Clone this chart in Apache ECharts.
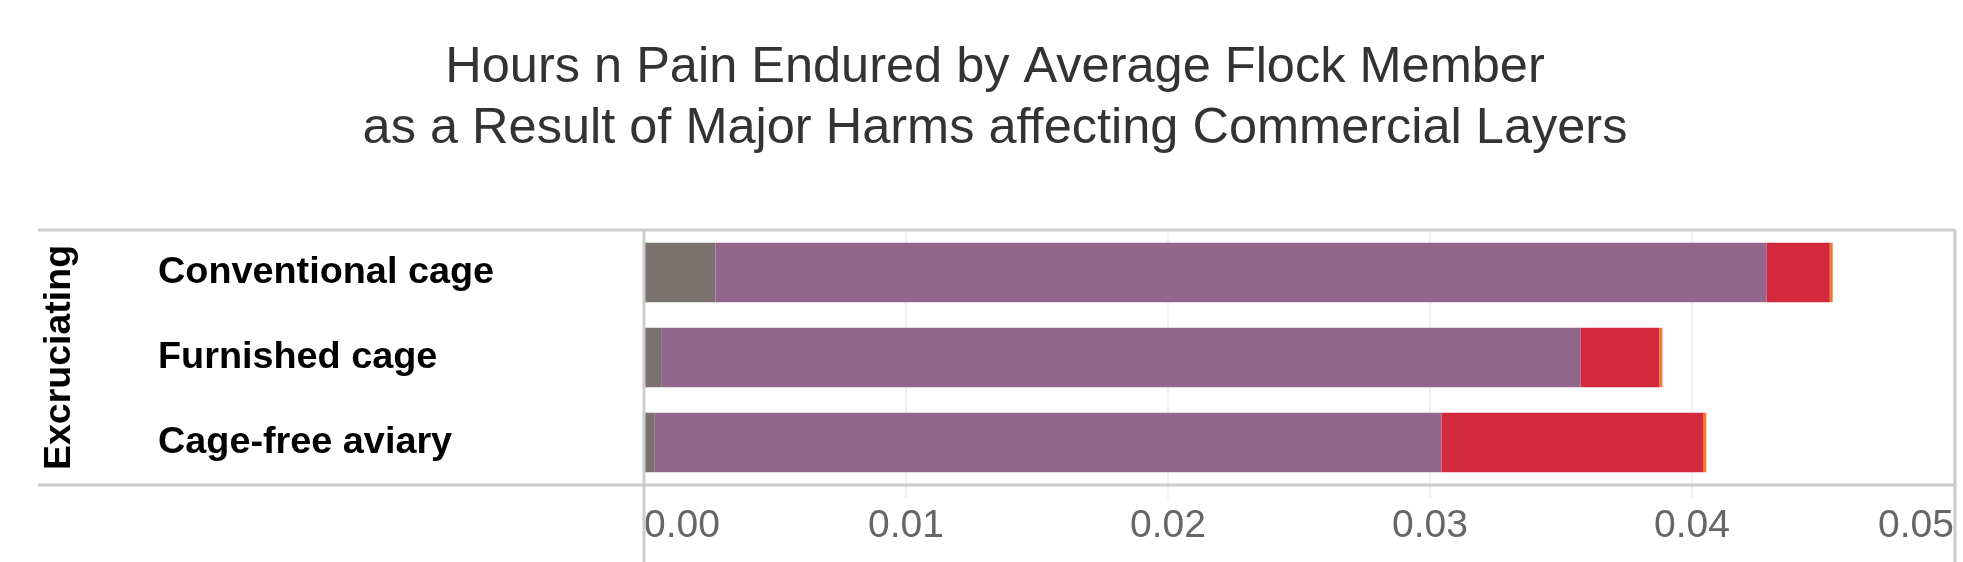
<!DOCTYPE html>
<html>
<head>
<meta charset="utf-8">
<script src="https://cdn.jsdelivr.net/npm/echarts@6/dist/echarts.min.js"></script>
<style>
  html, body { margin: 0; padding: 0; background: #fff; }
  #chart { width: 1963px; height: 562px; }
</style>
</head>
<body>
<div id="chart"></div>
<script>
const titleText = 'Hours n Pain Endured by Average Flock Member\nas a Result of Major Harms affecting Commercial Layers';
const groupName = 'Excruciating';
const categories = ['Conventional cage', 'Furnished cage', 'Cage-free aviary'];
const harm1 = [0.00273, 0.00068, 0.00041];
const harm2 = [0.04012, 0.03507, 0.03003];
const harm3 = [0.00241, 0.00301, 0.00998];
const harm4 = [0.00011, 0.00011, 0.00013];
const seriesNames = ['Harm 1', 'Harm 2', 'Harm 3', 'Harm 4'];
const seriesColors = ['#7b716f', '#92668d', '#d2293d', '#f37a30'];
const xMin = 0, xMax = 0.05, xStep = 0.01;

const FONT = "'Liberation Sans', Arial, sans-serif";
const chart = echarts.init(document.getElementById('chart'), null, { renderer: 'canvas' });
const seriesData = [harm1, harm2, harm3, harm4];

const frameColor = '#cccccc';
const option = {
  animation: false,
  title: {
    text: titleText,
    left: 995,
    top: 38,
    padding: 0,
    textAlign: 'center',
    textStyle: { fontFamily: FONT, fontSize: 50.5, fontWeight: 'normal', color: '#333333', lineHeight: 61 }
  },
  grid: { left: 644, right: 9, top: 230, bottom: 77, containLabel: false },
  xAxis: {
    type: 'value',
    min: xMin, max: xMax, interval: xStep,
    axisLine: { show: false },
    axisTick: { show: true, length: 13, lineStyle: { color: '#ececec', width: 1.5 } },
    splitLine: { show: true, lineStyle: { color: '#ececec', width: 1.5 } },
    axisLabel: {
      fontFamily: FONT, fontSize: 39, color: '#666666', lineHeight: 39, margin: 22,
      alignMinLabel: 'left', alignMaxLabel: 'right',
      formatter: v => v.toFixed(2)
    }
  },
  yAxis: {
    type: 'category',
    data: categories,
    inverse: true,
    name: groupName,
    nameLocation: 'middle',
    nameRotate: 90,
    nameGap: 565,
    nameTextStyle: { fontFamily: FONT, fontSize: 37.5, fontWeight: 'bold', color: '#000000' },
    axisLine: { show: false },
    axisTick: { show: false },
    splitLine: { show: false },
    axisLabel: {
      fontFamily: FONT, fontSize: 37.8, fontWeight: 'bold', color: '#000000',
      align: 'left', margin: 486
    }
  },
  series: seriesData.map((d, i) => ({
    name: seriesNames[i],
    type: 'bar',
    stack: 'total',
    barWidth: '70%',
    data: d,
    itemStyle: { color: seriesColors[i] }
  })),
  graphic: [
    { type: 'line', z: 100, shape: { x1: 38, y1: 230, x2: 1955, y2: 230 }, style: { stroke: frameColor, lineWidth: 3 } },
    { type: 'line', z: 100, shape: { x1: 38, y1: 485, x2: 1955, y2: 485 }, style: { stroke: frameColor, lineWidth: 3 } },
    { type: 'line', z: 100, shape: { x1: 644, y1: 230, x2: 644, y2: 562 }, style: { stroke: frameColor, lineWidth: 3 } },
    { type: 'line', z: 100, shape: { x1: 1955, y1: 230, x2: 1955, y2: 562 }, style: { stroke: frameColor, lineWidth: 3 } }
  ]
};
chart.setOption(option);
</script>
</body>
</html>
